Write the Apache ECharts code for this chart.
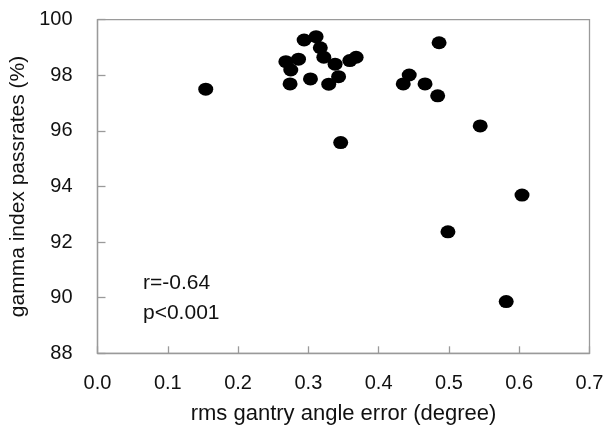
<!DOCTYPE html>
<html>
<head>
<meta charset="utf-8">
<script src="https://cdn.jsdelivr.net/npm/echarts@6/dist/echarts.min.js"></script>
<style>html,body{margin:0;padding:0;background:#fff}#c{width:607px;height:428px}</style>
</head>
<body>
<div id="c"></div>
<script>
const xErr = [0.154, 0.294, 0.311, 0.317, 0.322, 0.268, 0.286, 0.275, 0.274, 0.303, 0.338, 0.343, 0.329, 0.359, 0.368, 0.346, 0.486, 0.4435, 0.435, 0.466, 0.484, 0.5445, 0.604, 0.4986, 0.5815];
const passRate = [97.50, 99.27, 99.39, 98.99, 98.65, 98.49, 98.58, 98.19, 97.69, 97.87, 98.40, 97.95, 97.68, 98.53, 98.65, 95.58, 99.17, 98.01, 97.69, 97.69, 97.26, 96.18, 93.69, 92.37, 89.86];
const xTitle = 'rms gantry angle error (degree)';
const yTitle = 'gamma index passrates (%)';
const statText = ['r=-0.64', 'p<0.001'];

const points = xErr.map((x, i) => [x, passRate[i]]);
const font = 'Liberation Sans, Arial, sans-serif';
const axisCol = '#9a9a9a';
const txtCol = '#111';

const chart = echarts.init(document.getElementById('c'), null, {renderer: 'canvas'});
chart.setOption({
  animation: false,
  backgroundColor: '#fff',
  grid: {left: 97.5, right: 17.5, top: 19.7, bottom: 74.7, show: true, borderColor: axisCol, borderWidth: 1.3,
         containLabel: false, outerBoundsMode: 'none'},
  xAxis: {
    type: 'value', min: 0, max: 0.7, interval: 0.1,
    name: xTitle, nameLocation: 'middle', nameGap: 50,
    nameTextStyle: {fontFamily: font, fontSize: 22, color: txtCol},
    axisLine: {show: true, lineStyle: {color: axisCol, width: 1.3}},
    axisTick: {show: true, inside: true, length: 7, lineStyle: {color: axisCol, width: 1.3}},
    axisLabel: {fontFamily: font, fontSize: 20, color: txtCol, margin: 20, formatter: v => v.toFixed(1)},
    splitLine: {show: false}
  },
  yAxis: {
    type: 'value', min: 88, max: 100, interval: 2,
    name: yTitle, nameLocation: 'middle', nameGap: 63,
    nameTextStyle: {fontFamily: font, fontSize: 21, color: txtCol},
    axisLine: {show: true, lineStyle: {color: axisCol, width: 1.3}},
    axisTick: {show: true, inside: true, length: 8, lineStyle: {color: axisCol, width: 1.3}},
    axisLabel: {fontFamily: font, fontSize: 20, color: txtCol, margin: 25},
    splitLine: {show: false}
  },
  graphic: [
    {type: 'text', left: 143, top: 273, style: {text: statText[0], font: '21px ' + font, fill: txtCol}},
    {type: 'text', left: 143, top: 303, style: {text: statText[1], font: '21px ' + font, fill: txtCol}}
  ],
  series: [{
    type: 'scatter',
    data: points,
    symbol: 'circle',
    symbolSize: [15, 13],
    itemStyle: {color: '#000', opacity: 1}
  }]
});
</script>
</body>
</html>
